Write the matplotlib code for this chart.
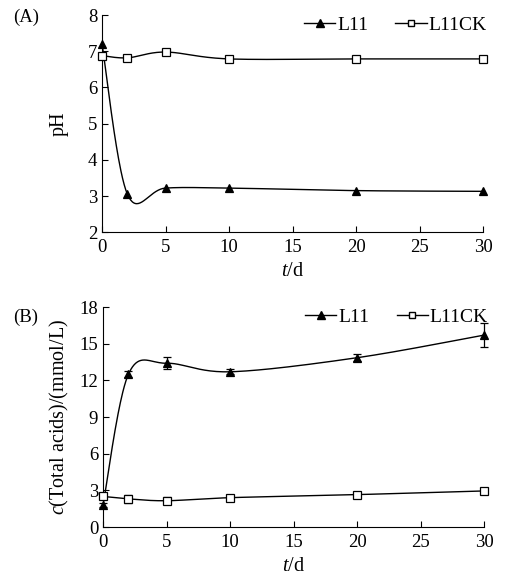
import matplotlib
matplotlib.use('Agg')
import matplotlib.pyplot as plt
from matplotlib.lines import Line2D
import numpy as np

plt.rcParams['font.family'] = ['Liberation Serif', 'DejaVu Serif']
plt.rcParams['mathtext.fontset'] = 'custom'
plt.rcParams['mathtext.it'] = 'Liberation Serif:italic'
plt.rcParams['mathtext.rm'] = 'Liberation Serif'

# 数据
days = [0, 2, 5, 10, 20, 30]
ph_l11 = [7.2, 3.05, 3.22, 3.22, 3.15, 3.13]
ph_ck = [6.88, 6.82, 6.98, 6.79, 6.79, 6.79]
acid_l11 = [1.8, 12.5, 13.4, 12.7, 13.85, 15.7]
acid_l11_err = [0.2, 0.25, 0.5, 0.2, 0.3, 1.0]
acid_ck = [2.5, 2.3, 2.15, 2.4, 2.65, 2.95]
acid_ck_err = [0.2, 0.3, 0.3, 0.1, 0.15, 0.1]


def smooth(x, y, xr, yr, n=40):
    # Excel 风格平滑曲线（Bezier, 1/6 切线），在像素尺度下计算
    x = np.asarray(x, float) / xr
    y = np.asarray(y, float) / yr
    P = np.column_stack([x, y])
    P = np.vstack([P[0], P, P[-1]])
    out = []
    t = np.linspace(0, 1, n)[:, None]
    for i in range(1, len(P) - 2):
        p0, p1 = P[i], P[i + 1]
        c1 = p0 + (P[i + 1] - P[i - 1]) / 6
        c2 = p1 - (P[i + 2] - P[i]) / 6
        seg = (1 - t) ** 3 * p0 + 3 * (1 - t) ** 2 * t * c1 + 3 * (1 - t) * t ** 2 * c2 + t ** 3 * p1
        out.append(seg)
    out = np.vstack(out)
    return out[:, 0] * xr, out[:, 1] * yr


fig = plt.figure(figsize=(5.06, 5.82), dpi=100)
axA = fig.add_axes([0.2016, 0.601, 0.753, 0.373])
axB = fig.add_axes([0.2036, 0.0945, 0.753, 0.378])


def draw(ax, yl, ck, yrange, l11_err=None, ck_err=None):
    pos = ax.get_position()
    wpx = pos.width * 506
    hpx = pos.height * 582
    for vals, err, mk, fc in [(yl, l11_err, '^', 'black'), (ck, ck_err, 's', 'white')]:
        sx, sy = smooth(days, vals, 30 / wpx, yrange / hpx)
        ax.plot(sx, sy, color='black', lw=1.0, zorder=2)
        if err is not None:
            eb = ax.errorbar(days, vals, yerr=err, fmt='none', ecolor='black',
                             elinewidth=0.9, capsize=3, capthick=0.9, zorder=3)
            for art in eb.get_children():
                art.set_clip_on(False)
        ax.plot(days, vals, ls='none', marker=mk, markersize=5.5,
                markerfacecolor=fc, markeredgecolor='black', markeredgewidth=0.9,
                zorder=4, clip_on=False)
    handles = [
        Line2D([0], [0], color='black', lw=1, marker='^', markersize=5.5,
               markerfacecolor='black', markeredgecolor='black'),
        Line2D([0], [0], color='black', lw=1, marker='s', markersize=5,
               markerfacecolor='white', markeredgecolor='black'),
    ]
    ax.legend(handles, ['L11', 'L11CK'], loc='upper right', ncol=2, frameon=False,
              fontsize=14, handlelength=1.6, handletextpad=0.1, columnspacing=1.4,
              borderaxespad=0.0, bbox_to_anchor=(1.03, 1.03))
    ax.set_xlim(0, 30)
    ax.set_xticks([0, 5, 10, 15, 20, 25, 30])
    for s in ['top', 'right']:
        ax.spines[s].set_visible(False)
    ax.tick_params(direction='in', length=4, labelsize=13.5, width=0.8)
    ax.tick_params(axis='x', pad=5)
    ax.set_xlabel(r'$\mathit{t}$/d', fontsize=14.5, labelpad=4)


draw(axA, ph_l11, ph_ck, 6)
axA.set_ylim(2, 8)
axA.set_yticks([2, 3, 4, 5, 6, 7, 8])
axA.set_ylabel('pH', fontsize=14.5, labelpad=14)

draw(axB, acid_l11, acid_ck, 18, acid_l11_err, acid_ck_err)
axB.set_ylim(0, 18)
axB.set_yticks([0, 3, 6, 9, 12, 15, 18])
axB.set_ylabel(r'$\mathit{c}$(Total acids)/(mmol/L)', fontsize=14.5, labelpad=6)

fig.text(0.025, 0.985, '(A)', fontsize=13.5, va='top')
fig.text(0.025, 0.470, '(B)', fontsize=13.5, va='top')

fig.savefig('out.png', dpi=100, facecolor='white')
